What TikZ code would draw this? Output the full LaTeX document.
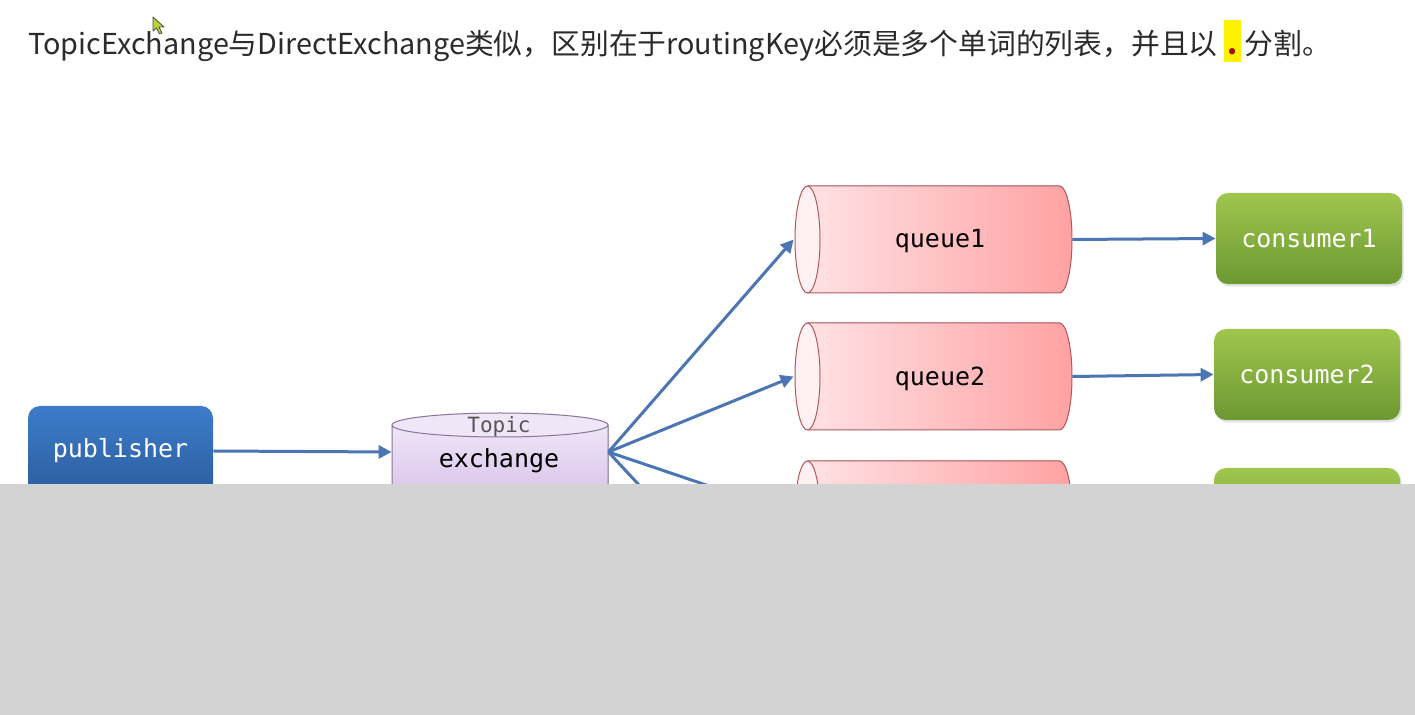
\documentclass[tikz,border=0pt]{standalone}
\usepackage{fontspec}
\setmainfont{Noto Sans CJK SC}
\setmonofont{DejaVu Sans Mono}
\usetikzlibrary{arrows.meta,shadows}
\definecolor{titlegray}{HTML}{2B2B2B}
\definecolor{hlyellow}{HTML}{FFF200}
\definecolor{dotred}{HTML}{A01010}
\definecolor{arrowblue}{HTML}{4C76B3}
\definecolor{pubtop}{HTML}{3D7CCB}
\definecolor{pubbot}{HTML}{2B5D9C}
\definecolor{ctop}{HTML}{9FC64E}
\definecolor{cbot}{HTML}{6C9832}
\definecolor{qleft}{HTML}{FFE4E7}
\definecolor{qright}{HTML}{FFA2A3}
\definecolor{qend}{HTML}{FFF0F2}
\definecolor{qborder}{HTML}{B05A60}
\definecolor{extop}{HTML}{EFE6F7}
\definecolor{exbot}{HTML}{D5BEE9}
\definecolor{exborder}{HTML}{8C7399}
\definecolor{topicgray}{HTML}{555555}
\definecolor{covergray}{HTML}{D3D3D3}
\definecolor{cursorfill}{HTML}{B8D630}
\newcommand\hldot{{\setlength{\fboxsep}{0pt}\colorbox{hlyellow}{\rule[-3.5pt]{0pt}{21pt}\makebox[8.5pt]{\textcolor{dotred}{\textbf{.}}}}}}
\newcommand\queuecyl[3]{%
  \fill[left color=qleft, right color=qright] (807.5,#2+53.5) -- (1059.5,#2+53.5) arc(90:-90:6.25pt and 26.75pt) -- (807.5,#2-53.5) arc(270:90:6.25pt and 26.75pt) -- cycle;
  \draw[draw=qborder, line width=0.5pt] (807.5,#2+53.5) -- (1059.5,#2+53.5) arc(90:-90:6.25pt and 26.75pt) -- (807.5,#2-53.5);
  \draw[draw=qborder, line width=0.5pt, fill=qend] (807.5,#2) ellipse (6.25pt and 26.75pt);
  \node[qnode] (#1) at (933,#2) {};
  \node[mono, yshift=-1pt] at (940,#2) {#3};
}
\tikzset{
  mono/.style={font=\ttfamily\fontsize{12.5}{14}\selectfont, inner sep=0pt},
  pubbox/.style={mono, text=white, rounded corners=6pt, minimum width=92.5pt, minimum height=45pt, top color=pubtop, bottom color=pubbot},
  cbox/.style={mono, text=white, rounded corners=6pt, minimum width=93pt, minimum height=45.5pt, top color=ctop, bottom color=cbot, drop shadow={opacity=0.25, shadow xshift=0.8pt, shadow yshift=-1.2pt}},
  qnode/.style={minimum width=139pt, minimum height=53.5pt, inner sep=0pt},
  exnode/.style={minimum width=108pt, minimum height=40pt, inner sep=0pt},
  conn/.style={draw=arrowblue, line width=1.5pt, -{Triangle[length=6.5pt,width=6.5pt]}},
}
\begin{document}
\begin{tikzpicture}[x=0.5pt,y=0.5pt]
\useasboundingbox (0,0) rectangle (1415,-715);
\fill[white] (0,0) rectangle (1415,-715);

% title
\node[anchor=base west, inner sep=0pt, text=titlegray, font=\fontsize{14.4}{17}\selectfont] (title) at (28,-55)
  {TopicExchange与DirectExchange类似，区别在于routingKey必须是多个单词的列表，并且以\hspace{3pt}\hldot\hspace{2pt}分割。};

% publisher
\node[pubbox] (pub) at (120.5,-451) {publisher};

% exchange cylinder
\fill[top color=extop, bottom color=exbot] (392,-425) -- (392,-495) arc(180:360:54pt and 6pt) -- (608,-425) -- cycle;
\draw[draw=exborder, line width=0.5pt] (392,-425) -- (392,-495) arc(180:360:54pt and 6pt) -- (608,-425);
\draw[draw=exborder, line width=0.5pt, fill=extop] (500,-425) ellipse (54pt and 6pt);
\node[exnode] (ex) at (500,-452) {};
\node[mono, font=\ttfamily\fontsize{10.5}{12}\selectfont, text=topicgray] (topic) at (499,-427) {Topic};
\node[mono] (exlabel) at (499,-461) {exchange};

% queues
\queuecyl{q1}{-239.5}{queue1}
\queuecyl{q2}{-376.5}{queue2}
\queuecyl{q3}{-514.5}{queue3}
\coordinate (q4in) at (794,-652);

% consumers
\node[cbox] (c1) at (1309,-238.5) {consumer1};
\node[cbox] (c2) at (1307,-374.5) {consumer2};
\node[cbox] (c3) at (1307,-513.5) {consumer3};

% connectors
\draw[conn] (pub.east) -- (ex.west);
\draw[conn] (ex.east) -- (q1.west);
\draw[conn] (ex.east) -- (q2.west);
\draw[conn] (ex.east) -- (q3.west);
\draw[conn] (ex.east) -- (q4in);
\draw[conn] (q1.east) -- (c1.west);
\draw[conn] (q2.east) -- (c2.west);
\draw[conn] (q3.east) -- (c3.west);

% cover
\fill[covergray] (0,-484) rectangle (1415,-715);

% cursor
\draw[fill=cursorfill, draw=black!70, line width=0.4pt, line join=round]
  (153,-17) -- (153,-31) -- (156.5,-28) -- (159.5,-34) -- (162,-33) -- (159,-27) -- (164,-27) -- cycle;
\end{tikzpicture}
\end{document}
